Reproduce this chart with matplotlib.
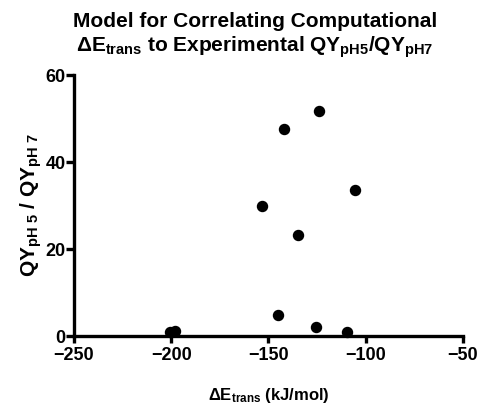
import matplotlib
matplotlib.use("Agg")
import matplotlib.pyplot as plt

plt.rcParams['font.family'] = ['Liberation Sans', 'DejaVu Sans']
plt.rcParams['font.weight'] = 'bold'
plt.rcParams['mathtext.fontset'] = 'custom'
plt.rcParams['mathtext.rm'] = 'Liberation Sans:bold'
plt.rcParams['mathtext.it'] = 'Liberation Sans:bold'
plt.rcParams['mathtext.bf'] = 'Liberation Sans:bold'
plt.rcParams['mathtext.sf'] = 'Liberation Sans:bold'

# data
delta_e = [-124, -142, -105.5, -153.5, -135, -145, -125.5, -109.5, -200.5, -198]
qy_ratio = [51.8, 47.6, 33.6, 30.0, 23.2, 4.9, 2.1, 1.0, 1.0, 1.1]

xticks = [-250, -200, -150, -100, -50]
yticks = [0, 20, 40, 60]

fig = plt.figure(figsize=(4.82, 4.07), dpi=100)
ax = fig.add_axes([0.1535, 0.1744, 0.807, 0.6413])

ax.scatter(delta_e, qy_ratio, s=52, color='black', zorder=3, clip_on=False)

ax.set_xlim(-250, -50)
ax.set_ylim(0, 60)
ax.set_xticks(xticks)
ax.set_yticks(yticks)

for side in ['top', 'right']:
    ax.spines[side].set_visible(False)
for side in ['left', 'bottom']:
    ax.spines[side].set_linewidth(2.4)
ax.tick_params(axis='x', length=5, pad=3)
ax.tick_params(axis='y', length=6, pad=0)
ax.tick_params(width=2.4, labelsize=13, direction='out')
for lab in ax.get_xticklabels() + ax.get_yticklabels():
    lab.set_fontweight('bold')

ax.set_xlabel(r'ΔE$_{trans}$ (kJ/mol)', fontsize=12, fontweight='bold', labelpad=16)
ax.set_ylabel(r'QY$_{pH\ 5}$ / QY$_{pH\ 7}$', fontsize=15, fontweight='bold', labelpad=1)

fig.text(0.529, 0.97, 'Model for Correlating Computational\n'
         r'ΔE$_{trans}$ to Experimental QY$_{pH5}$/QY$_{pH7}$',
         ha='center', va='top', fontsize=15, fontweight='bold', linespacing=1.2)

fig.savefig('out.png', dpi=100)
